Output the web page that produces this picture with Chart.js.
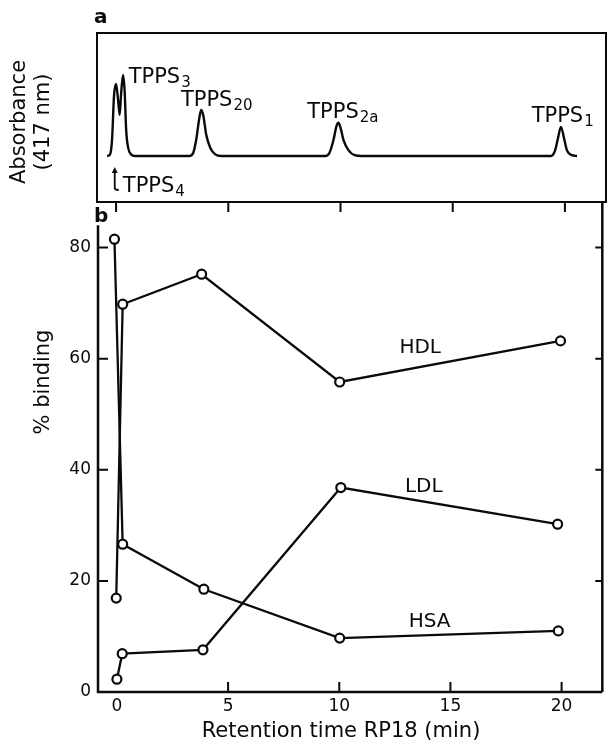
<!DOCTYPE html>
<html>
<head>
<meta charset="utf-8">
<script src="https://cdn.jsdelivr.net/npm/chart.js@4.4.0/dist/chart.umd.min.js"></script>
<style>
  html, body { margin: 0; padding: 0; background: #fff; }
  #wrap { position: relative; width: 609px; height: 742px; }
  #wrap canvas { position: absolute; left: 0; top: 0; }
</style>
</head>
<body>
<div id="wrap">
  <canvas id="chartA" width="609" height="742"></canvas>
  <canvas id="chartB" width="609" height="742"></canvas>
</div>
<script>
const INK = '#0a0a0a';
Chart.defaults.font.family = "'DejaVu Sans', sans-serif";
Chart.defaults.color = INK;

// panel a: RP18 chromatogram, absorbance in arbitrary units (baseline = 0)
const absTime = [-0.40, -0.27, -0.18, -0.09, 0.00, 0.09, 0.16, 0.22, 0.31, 0.38, 0.45, 0.54, 0.67, 0.85,
  3.26, 3.44, 3.57, 3.71, 3.79, 3.88, 4.02, 4.20, 4.42, 4.69,
  9.33, 9.51, 9.69, 9.82, 9.91, 10.00, 10.13, 10.36, 10.63, 10.94,
  19.38, 19.55, 19.69, 19.82, 19.96, 20.09, 20.31, 20.54];
const absSignal = [0, 0.02, 0.20, 0.75, 0.89, 0.69, 0.51, 0.75, 1.00, 0.81, 0.32, 0.10, 0.02, 0,
  0, 0.04, 0.20, 0.47, 0.57, 0.51, 0.26, 0.10, 0.02, 0,
  0, 0.04, 0.20, 0.37, 0.41, 0.35, 0.20, 0.07, 0.01, 0,
  0, 0.06, 0.22, 0.36, 0.22, 0.07, 0.01, 0];

// panel b: % binding per fraction
const xTicks = [0, 5, 10, 15, 20];
const yTicks = [0, 20, 40, 60, 80];
const retentionHDL = [-0.03, 0.26, 3.81, 10.02, 19.95];
const bindingHDL   = [16.9, 69.8, 75.2, 55.8, 63.2];
const retentionLDL = [0.00, 0.24, 3.87, 10.07, 19.82];
const bindingLDL   = [2.3, 6.9, 7.6, 36.8, 30.2];
const retentionHSA = [-0.11, 0.26, 3.91, 10.02, 19.85];
const bindingHSA   = [81.5, 26.6, 18.5, 9.7, 11.0];

const X_MIN = -0.85, X_MAX = 21.83;

// peak annotations (left edge, baseline) in data units of panel a
const peakLabels = [
  {main: 'TPPS', sub: '3',  x: 0.56,  y: 0.90},
  {main: 'TPPS', sub: '20', x: 2.89,  y: 0.62},
  {main: 'TPPS', sub: '2a', x: 8.52,  y: 0.47},
  {main: 'TPPS', sub: '1',  x: 18.52, y: 0.42},
  {main: 'TPPS', sub: '4',  x: 0.30,  y: -0.44}
];
// series names in panel b (centre, baseline)
const seriesLabels = [
  {text: 'HDL', x: 13.64, y: 61.0},
  {text: 'LDL', x: 13.80, y: 36.0},
  {text: 'HSA', x: 14.06, y: 11.7}
];

function pts(xs, ys) {
  return xs.map((v, i) => ({x: v, y: ys[i]}));
}

const frameA = {
  id: 'frameA',
  afterDraw(chart) {
    const {ctx, chartArea: a, scales: {x, y}} = chart;
    ctx.save();
    ctx.strokeStyle = INK;
    ctx.lineWidth = 2;
    ctx.strokeRect(a.left, a.top, a.right - a.left, a.bottom - a.top);
    ctx.beginPath();
    xTicks.forEach(v => {
      const px = x.getPixelForValue(v);
      ctx.moveTo(px, a.bottom);
      ctx.lineTo(px, a.bottom + 10);
    });
    ctx.stroke();

    // arrow pointing at the TPPS4 peak
    const ax = x.getPixelForValue(-0.06);
    const tip = y.getPixelForValue(-0.136), foot = y.getPixelForValue(-0.395);
    ctx.lineWidth = 1.8;
    ctx.beginPath();
    ctx.moveTo(ax, tip + 4);
    ctx.lineTo(ax, foot);
    ctx.quadraticCurveTo(ax, foot + 2, ax + 4, foot + 2);
    ctx.stroke();
    ctx.fillStyle = INK;
    ctx.beginPath();
    ctx.moveTo(ax, tip);
    ctx.lineTo(ax - 3, tip + 6);
    ctx.lineTo(ax + 3, tip + 6);
    ctx.closePath();
    ctx.fill();

    ctx.textBaseline = 'alphabetic';
    ctx.textAlign = 'left';
    peakLabels.forEach(l => {
      const px = x.getPixelForValue(l.x), py = y.getPixelForValue(l.y);
      ctx.font = "21px 'DejaVu Sans'";
      ctx.fillText(l.main, px, py);
      const w = ctx.measureText(l.main).width;
      ctx.font = "15px 'DejaVu Sans'";
      ctx.fillText(l.sub, px + w + 1, py + 4);
    });

    ctx.font = "bold 20px 'DejaVu Sans'";
    ctx.fillText('a', 94, 23);

    ctx.font = "21px 'DejaVu Sans'";
    ctx.textAlign = 'center';
    ctx.textBaseline = 'middle';
    ctx.translate(20, 122);
    ctx.rotate(-Math.PI / 2);
    ctx.fillText('Absorbance', 0, 0);
    ctx.fillText('(417 nm)', 0, 24);
    ctx.restore();
  }
};

const frameB = {
  id: 'frameB',
  afterDraw(chart) {
    const {ctx, chartArea: a, scales: {x, y}} = chart;
    ctx.save();
    ctx.strokeStyle = INK;
    ctx.lineWidth = 2.5;
    ctx.beginPath();
    ctx.moveTo(a.left, y.getPixelForValue(84));
    ctx.lineTo(a.left, a.bottom);
    ctx.lineTo(a.right, a.bottom);
    ctx.moveTo(a.right, a.top);
    ctx.lineTo(a.right, a.bottom);
    ctx.stroke();
    ctx.lineWidth = 2;
    ctx.beginPath();
    yTicks.slice(1).forEach(v => {
      const py = y.getPixelForValue(v);
      ctx.moveTo(a.left, py); ctx.lineTo(a.left + 10, py);
      ctx.moveTo(a.right, py); ctx.lineTo(a.right - 7, py);
    });
    xTicks.slice(1).forEach(v => {
      const px = x.getPixelForValue(v);
      ctx.moveTo(px, a.bottom); ctx.lineTo(px, a.bottom - 10);
    });
    ctx.stroke();

    ctx.fillStyle = INK;
    ctx.font = "20px 'DejaVu Sans'";
    ctx.textAlign = 'center';
    ctx.textBaseline = 'alphabetic';
    seriesLabels.forEach(l => {
      ctx.fillText(l.text, x.getPixelForValue(l.x), y.getPixelForValue(l.y));
    });

    ctx.font = "21px 'DejaVu Sans'";
    ctx.fillText('Retention time RP18 (min)', 341, 737);

    ctx.font = "bold 20px 'DejaVu Sans'";
    ctx.textAlign = 'left';
    ctx.fillText('b', 94, 222);

    ctx.font = "21px 'DejaVu Sans'";
    ctx.textAlign = 'center';
    ctx.textBaseline = 'middle';
    ctx.translate(44, 382);
    ctx.rotate(-Math.PI / 2);
    ctx.fillText('% binding', 0, 0);
    ctx.restore();
  }
};

const seriesStyle = {
  showLine: true,
  borderColor: INK,
  borderWidth: 2.3,
  pointRadius: 4.5,
  pointBorderWidth: 2.2,
  pointBorderColor: INK,
  pointBackgroundColor: '#fff',
  tension: 0
};

new Chart(document.getElementById('chartA'), {
  type: 'line',
  data: {
    datasets: [{
      data: pts(absTime, absSignal),
      borderColor: INK,
      borderWidth: 2.4,
      pointRadius: 0,
      cubicInterpolationMode: 'monotone'
    }]
  },
  options: {
    responsive: false,
    animation: false,
    events: [],
    layout: {padding: {top: 33, right: 3, left: 0, bottom: 0}},
    plugins: {legend: {display: false}, tooltip: {enabled: false}},
    scales: {
      x: {
        type: 'linear', min: X_MIN, max: X_MAX,
        grid: {display: false, drawTicks: false},
        border: {display: false},
        ticks: {display: false},
        afterFit: s => { s.height = 540; }
      },
      y: {
        min: -0.568, max: 1.519,
        grid: {display: false, drawTicks: false},
        border: {display: false},
        ticks: {display: false},
        afterFit: s => { s.width = 97; }
      }
    }
  },
  plugins: [frameA]
});

new Chart(document.getElementById('chartB'), {
  type: 'scatter',
  data: {
    datasets: [
      {label: 'HDL', data: pts(retentionHDL, bindingHDL), ...seriesStyle},
      {label: 'LDL', data: pts(retentionLDL, bindingLDL), ...seriesStyle},
      {label: 'HSA', data: pts(retentionHSA, bindingHSA), ...seriesStyle}
    ]
  },
  options: {
    responsive: false,
    animation: false,
    events: [],
    layout: {padding: {top: 202, right: 3, left: 0, bottom: 0}},
    plugins: {legend: {display: false}, tooltip: {enabled: false}},
    scales: {
      x: {
        type: 'linear', min: X_MIN, max: X_MAX,
        grid: {display: false, drawTicks: false},
        border: {display: false},
        ticks: {font: {size: 17}, padding: 4, maxRotation: 0},
        afterBuildTicks: s => { s.ticks = xTicks.map(v => ({value: v})); },
        afterFit: s => { s.height = 50; }
      },
      y: {
        min: 0, max: 88.2,
        grid: {display: false, drawTicks: false},
        border: {display: false},
        ticks: {font: {size: 17}, padding: 7},
        afterBuildTicks: s => { s.ticks = yTicks.map(v => ({value: v})); },
        afterFit: s => { s.width = 98; }
      }
    }
  },
  plugins: [frameB]
});
</script>
</body>
</html>
